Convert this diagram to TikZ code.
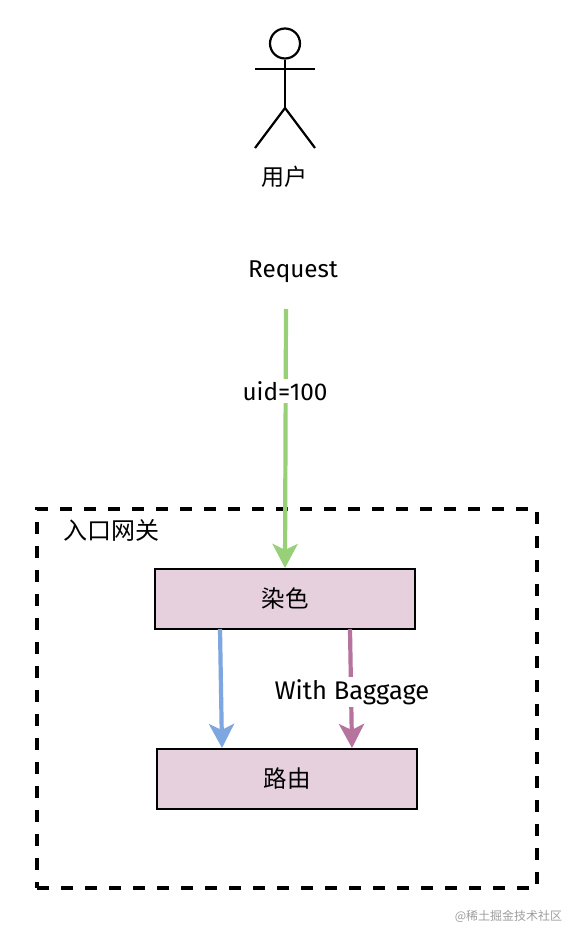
\documentclass[tikz,border=0pt]{standalone}
\usepackage{fontspec}
\setmainfont{Fira Sans}
\newfontfamily\cjk{Noto Sans CJK SC}
\usetikzlibrary{arrows.meta}
\definecolor{boxfill}{HTML}{E6D0DE}
\definecolor{greenl}{HTML}{97D077}
\definecolor{bluel}{HTML}{7EA6E0}
\definecolor{purplel}{HTML}{B5739D}
\tikzset{
  stick/.style={line width=2.2pt,black},
  boxstyle/.style={draw=black,line width=2pt,fill=boxfill,minimum width=260pt,minimum height=60pt,inner sep=0pt,font=\cjk\fontsize{23.5}{26}\selectfont},
  flow/.style={line width=4.2pt,-{Stealth[length=24pt,width=25pt,inset=6pt]}},
  cjklabel/.style={inner sep=0pt,font=\cjk\fontsize{23}{26}\selectfont},
  latin/.style={inner sep=2pt,fill=white,font=\fontsize{24.3}{28}\selectfont}
}
\begin{document}
\begin{tikzpicture}[x=1pt,y=-1pt]
\useasboundingbox (0,0) rectangle (582,942);
\fill[white] (0,0) rectangle (582,942);
% actor
\node[circle,draw=black,line width=2.2pt,minimum size=30pt,inner sep=0pt] (head) at (285,43.5) {};
\coordinate (hip) at (285,108);
\coordinate (armL) at (255,69);
\coordinate (armR) at (315,69);
\coordinate (legL) at (255,148);
\coordinate (legR) at (315,148);
\draw[stick] (head.south) -- (hip);
\draw[stick] (armL) -- (armR);
\draw[stick] (legL) -- (hip) -- (legR);
\node[cjklabel] (user) at (284,177) {用户};
\node[latin,fill=none] (req) at (293,272) {Request};
% gateway
\node[draw=black,line width=3.6pt,dash pattern=on 12pt off 12pt,minimum width=500pt,minimum height=379pt,inner sep=0pt,fill=none] (gate) at (287,698.5) {};
\node[cjklabel,font=\cjk\fontsize{24}{28}\selectfont] (gatelabel) at (111,530) {入口网关};
\node[boxstyle] (dye) at (285,599) {染色};
\node[boxstyle] (route) at (287,779) {\raisebox{-1pt}{路由}};
% connector ends
\coordinate (gstart) at (286,309);
\coordinate (bs) at (220,629);
\coordinate (be) at (222,748);
\coordinate (ps) at (350,629);
\coordinate (pe) at (352,748);
\draw[flow,greenl] (gstart) -- (dye.north);
\draw[flow,bluel] (bs) -- (be);
\draw[flow,purplel] (ps) -- (pe);
\node[latin] (uid) at (285,391) {uid=100};
\node[latin,font=\fontsize{25.5}{28}\selectfont] (bag) at (352,692) {With Baggage};
\node[inner sep=0pt,text=black!38,font=\cjk\fontsize{12}{14}\selectfont] (mark) at (508.5,916) {@稀土掘金技术社区};
\end{tikzpicture}
\end{document}
